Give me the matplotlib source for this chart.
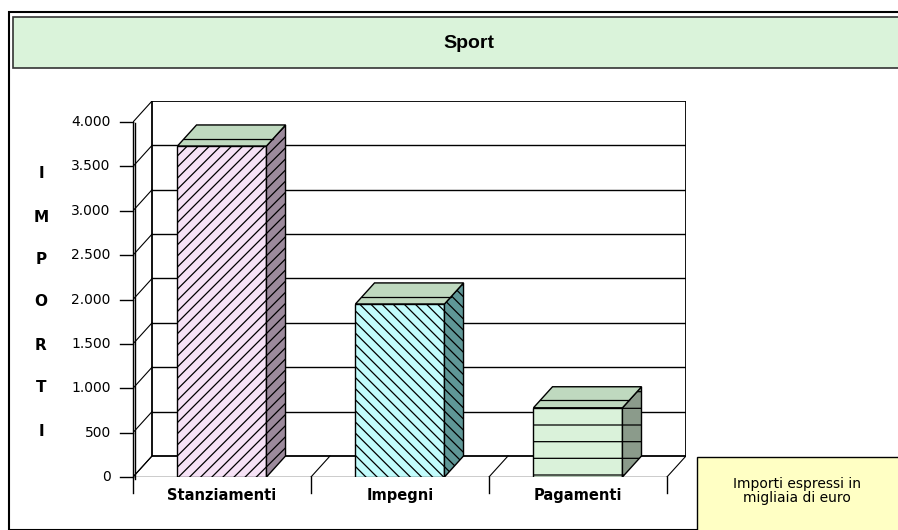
import numpy as np
import matplotlib.pyplot as plt
from matplotlib.patches import Rectangle, Polygon

plt.rcParams['font.family'] = ['DejaVu Sans']
plt.rcParams['hatch.linewidth'] = 0.9

# data
categories = ['Stanziamenti', 'Impegni', 'Pagamenti']
values = [3730, 1950, 780]
yticks = [0, 500, 1000, 1500, 2000, 2500, 3000, 3500, 4000]
ytick_labels = ['0', '500', '1.000', '1.500', '2.000', '2.500', '3.000', '3.500', '4.000']
axis_letters = ['I', 'M', 'P', 'O', 'R', 'T', 'I']
title = 'Sport'
note = 'Importi espressi in\nmigliaia di euro'

front_colors = ['#f6e2f6', '#c2fcfc', '#daf2da']
side_colors = ['#9c8a9c', '#5f9797', '#8b9b8b']
top_color = '#bfd9bf'
hatches = ['///', '\\\\\\', '-']

W, H = 898, 530
fig = plt.figure(figsize=(W / 100, H / 100), dpi=100)


def px(x, y, w, h):
    # pixel box (top-left origin) -> figure fraction
    return [x / W, 1 - (y + h) / H, w / W, h / H]


# frame, title band and note box
fig.add_artist(Rectangle((9 / W, 0), 1, 1 - 12 / H, transform=fig.transFigure,
                         fill=False, ec='black', lw=1.5))
fig.add_artist(Rectangle((13 / W, 1 - 68 / H), 1, 51 / H, transform=fig.transFigure,
                         fc='#daf3da', ec='#333333', lw=1.2))
fig.text(469 / W, 1 - 43 / H, title, ha='center', va='center', fontsize=14,
         fontweight='bold', family=['Liberation Sans Narrow', 'Liberation Sans'])
fig.add_artist(Rectangle((697 / W, -0.01), 1, (530 - 457) / H + 0.01,
                         transform=fig.transFigure, fc='#ffffc4', ec='black', lw=1))
fig.text(797 / W, 1 - 491 / H, note, ha='center', va='center', fontsize=10,
         linespacing=1.05)

letter_y = [173, 217, 259, 302, 345, 388, 432]
for letter, ly in zip(axis_letters, letter_y):
    fig.text(41 / W, 1 - ly / H, letter, ha='center', va='center',
             fontsize=11, fontweight='bold')

ax = fig.add_axes(px(133, 101, 553, 376))
ymax = yticks[-1]
dx, dy = 0.107, 237
n = len(categories)
ax.set_xlim(-0.5, n - 0.5 + dx)
ax.set_ylim(0, ymax + dy)
ax.axis('off')

# back wall + gridlines
ax.add_patch(Rectangle((-0.5 + dx, dy), n, ymax, fc='white', ec='black', lw=1.3, zorder=1))
for v in yticks[1:-1]:
    ax.plot([-0.5 + dx, n - 0.5 + dx], [v + dy, v + dy], color='black', lw=1, zorder=1)

# left wall
for v in yticks:
    ax.plot([-0.5, -0.5 + dx], [v, v + dy], color='black', lw=0.8, zorder=1)
ax.plot([-0.5, -0.5], [0, ymax], color='black', lw=1, zorder=2, clip_on=False)
ax.plot([-0.5 + 0.012, -0.5 + 0.012], [-20, ymax - 10], color='black', lw=1, zorder=2,
        clip_on=False)

# floor
ax.plot([-0.5, n - 0.5], [0, 0], color='black', lw=1, zorder=2)
for b in range(n + 1):
    ax.plot([b - 0.5, b - 0.5 + dx], [0, dy], color='black', lw=0.8, zorder=1)
    ax.plot([b - 0.5, b - 0.5], [0, -180], color='black', lw=1, clip_on=False)

# y ticks
for v, lab in zip(yticks, ytick_labels):
    ax.plot([-0.5 - 0.073, -0.5], [v, v], color='black', lw=1, clip_on=False)
    ax.text(-0.5 - 0.125, v, lab, ha='right', va='center', fontsize=10)

# bars
bw = 0.25
for i, (cat, v) in enumerate(zip(categories, values)):
    ax.add_patch(Rectangle((i - bw, 0), 2 * bw, v, fc=front_colors[i], ec='black',
                           hatch=hatches[i], lw=1, zorder=3))
    side = [(i + bw, 0), (i + bw + dx, dy), (i + bw + dx, v + dy), (i + bw, v)]
    ax.add_patch(Polygon(side, closed=True, fc=side_colors[i], ec='black',
                         hatch=hatches[i], lw=1, zorder=3))
    top = [(i - bw, v), (i - bw + dx, v + dy), (i + bw + dx, v + dy), (i + bw, v)]
    ax.add_patch(Polygon(top, closed=True, fc=top_color, ec='black', lw=1, zorder=3))
    f = 0.35
    ax.plot([i - bw + f * dx, i + bw + f * dx], [v + f * dy, v + f * dy],
            color='black', lw=0.9, zorder=4)
    ax.text(i, -205, cat, ha='center', va='center', fontsize=10.5, fontweight='bold')

fig.savefig('out.png', dpi=100)
